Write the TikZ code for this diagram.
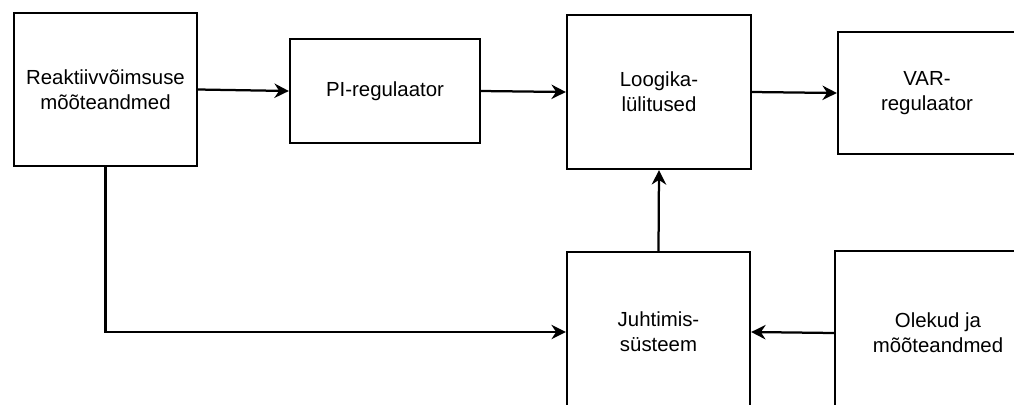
\documentclass[tikz,border=0pt]{standalone}
\usepackage{fontspec}
\setmainfont{Liberation Sans}
\usetikzlibrary{arrows.meta}
\begin{document}
\begin{tikzpicture}[x=0.025cm,y=-0.025cm,
		blok/.style={draw=black,line width=1.6pt,align=center,inner sep=0pt,
			font=\fontsize{14.5}{17.8}\selectfont},
		nool/.style={line width=1.6pt,-{Stealth[length=3.6mm,width=3.6mm]}}]
		\useasboundingbox (0,0) rectangle (1014,404);
		\clip (0,0) rectangle (1014,404);
		\node[blok,minimum width=4.575cm,minimum height=3.825cm] (mootmine) at (105.5,89.5) {Reaktiivvõimsuse\\mõõteandmed};
		\node[blok,minimum width=4.75cm,minimum height=2.6cm] (pi) at (385,91) {PI-regulaator};
		\node[blok,minimum width=4.6cm,minimum height=3.85cm] (loogika) at (659,92) {Loogika-\\lülitused};
		\node[blok,minimum width=4.45cm,minimum height=3.05cm] (var) at (927,93) {VAR-\\regulaator};
		\node[blok,minimum width=4.575cm,minimum height=4cm] (juhtimine) at (658.5,332) {Juhtimis-\\süsteem};
		\node[blok,minimum width=5.15cm,minimum height=4.1cm] (olekud) at (938,333) {Olekud ja\\mõõteandmed};
		\draw[nool] (mootmine.east) -- (pi.west);
		\draw[nool] (pi.east) -- (loogika.west);
		\draw[nool] (loogika.east) -- (var.west);
		\draw[nool] (juhtimine.north) -- (loogika.south);
		\draw[nool] (olekud.west) -- (juhtimine.east);
		\draw[nool] (mootmine.south) -- (mootmine.south |- juhtimine.west) -- (juhtimine.west);
	\end{tikzpicture}
\end{document}
